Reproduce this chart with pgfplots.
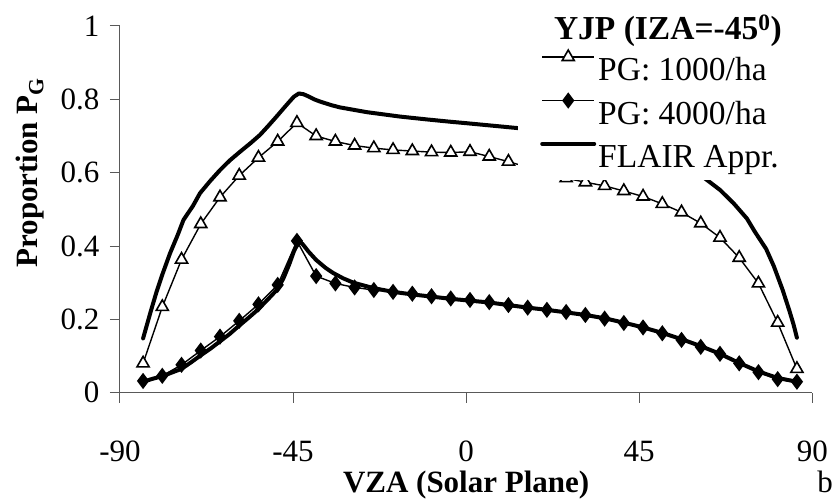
\documentclass[border=0pt]{standalone}
\usepackage{fontspec}
\setmainfont{Liberation Serif}
\usepackage{pgfplots}
\pgfplotsset{compat=1.18}
\begin{document}
\fontsize{31bp}{43.3bp}\selectfont
\begin{tikzpicture}
\begin{axis}[
  scale only axis, width=692.3bp, height=366.7bp,
  xmin=-90, xmax=90, ymin=0, ymax=1,
  axis lines=left, axis line style={-, black!65, line width=1bp},
  xtick={-90,-45,0,45,90}, xticklabels={-90,-45,0,45,90},
  ytick={0,0.2,0.4,0.6,0.8,1}, yticklabels={0,0.2,0.4,0.6,0.8,1},
  tick align=outside, major tick length=10bp,
  tick style={black!65, line width=1bp},
  xticklabel style={anchor=base, yshift=-58.3bp},
  yticklabel style={anchor=east},
  ylabel={\textbf{Proportion P\textsubscript{G}}},
  ylabel style={at={(axis description cs:-0.130,0.60)}, anchor=center},
  xlabel={\textbf{VZA (Solar Plane)}},
  xlabel style={at={(axis description cs:0.5,-0.271)}, anchor=base},
  legend style={at={(axis cs:13.49,0.935)}, anchor=north west, fill=white, draw=none,
    inner xsep=22bp, inner ysep=0bp, cells={anchor=base west},
    nodes={inner sep=0bp, text height=30.3bp, text depth=13bp},
    row sep=0bp, font=\fontsize{33.5bp}{43.3bp}\selectfont,
    /tikz/every odd column/.append style={column sep=2bp}},
  legend image code/.code={\draw[mark repeat=2,mark phase=2,#1] plot coordinates {(0bp,23.5bp) (26bp,23.5bp) (52bp,23.5bp)};},
  clip=false,
]
\addplot[black, line width=1.4bp, mark=triangle*, mark size=7bp, mark options={fill=white, line width=1.6bp, solid}] coordinates {
(-84,0.080) (-79,0.234) (-74,0.363) (-69,0.460) (-64,0.533) (-59,0.592) (-54,0.641) (-49,0.685) (-44,0.736)
(-39,0.700) (-34,0.685) (-29,0.674) (-24,0.667) (-19,0.662) (-14,0.659) (-9,0.656) (-4,0.655) (1,0.657)
(6,0.644) (11,0.630) (16,0.615) (21,0.600) (26,0.585) (31,0.574) (36,0.564) (41,0.550) (46,0.535)
(51,0.515) (56,0.492) (61,0.462) (66,0.423) (71,0.368) (76,0.298) (81,0.191) (86,0.065)};
\addlegendentry{PG: 1000/ha}
\addplot[black, line width=1.4bp, mark=diamond*, mark size=7bp, mark options={fill=black, solid}] coordinates {
(-84,0.032) (-79,0.046) (-74,0.076) (-69,0.115) (-64,0.153) (-59,0.196) (-54,0.241) (-49,0.294) (-44,0.414)
(-39,0.318) (-34,0.298) (-29,0.287) (-24,0.280) (-19,0.275) (-14,0.270) (-9,0.263) (-4,0.257) (1,0.253)
(6,0.247) (11,0.239) (16,0.232) (21,0.226) (26,0.220) (31,0.212) (36,0.202) (41,0.190) (46,0.178)
(51,0.162) (56,0.144) (61,0.125) (66,0.106) (71,0.080) (76,0.056) (81,0.037) (86,0.030)};
\addlegendentry{PG: 4000/ha}
\addplot[black, line width=4bp, line join=round, line cap=round] coordinates {
(-84,0.148) (-83,0.185) (-82,0.222) (-80.5,0.275) (-79,0.322) (-77,0.380) (-75,0.430) (-73.5,0.471)
(-71,0.510) (-69.2,0.544) (-66.5,0.578) (-64,0.607) (-61.5,0.633) (-58.8,0.657) (-56,0.681) (-53.6,0.703)
(-51.5,0.727) (-49.3,0.753) (-47.5,0.775) (-46,0.793) (-44.8,0.807) (-43.5,0.816) (-42.3,0.814) (-41,0.808)
(-39.5,0.800) (-38,0.794) (-35,0.784) (-32.8,0.778) (-25.8,0.765) (-17.2,0.753) (-10,0.745) (-4.2,0.739)
(0,0.735) (7,0.728) (14,0.721) (20,0.712) (30,0.695) (40,0.672) (50,0.642) (56,0.619) (62,0.585)
(66,0.553) (69.5,0.517) (73,0.475) (75,0.440) (78,0.392) (80,0.345) (82.3,0.280) (84,0.225) (85.1,0.187) (86,0.150)};
\addlegendentry{FLAIR Appr.}
\addplot[black, line width=4bp, line join=round, line cap=round, forget plot] coordinates {
(-84,0.030) (-81.5,0.038) (-79,0.045) (-76.5,0.055) (-74,0.065) (-71.5,0.083) (-69,0.102) (-66.5,0.120)
(-64,0.140) (-61.5,0.160) (-59,0.183) (-56.5,0.205) (-54,0.228) (-51.5,0.255) (-49,0.283) (-47.5,0.312)
(-46,0.350) (-44.8,0.385) (-43.5,0.414) (-42.5,0.405) (-41,0.385) (-39,0.362) (-36.5,0.340) (-34.5,0.326)
(-32,0.312) (-29.3,0.300) (-26.5,0.292) (-24,0.285) (-19,0.275) (-14,0.268) (-9,0.262) (-4,0.256)
(1,0.251) (6,0.246) (11,0.239) (16,0.232) (21,0.226) (26,0.219) (31,0.212) (36,0.203) (41,0.191)
(46,0.178) (51,0.163) (56,0.146) (61,0.127) (66,0.106) (71,0.081) (76,0.058) (81,0.040) (86,0.030)};
\coordinate (O) at (axis cs:-90,0);
\node[anchor=base west, inner sep=0pt, font=\fontsize{33.5bp}{40bp}\selectfont\bfseries] at (axis cs:22.8,0.962) {YJP (IZA=-45\textsuperscript{0})};
\node[anchor=base west, inner sep=0pt] at (axis description cs:1.007,-0.271) {b};
\end{axis}
\pgfresetboundingbox
\path (O) ++(-120bp,-108.3bp) rectangle ++(837bp,501bp);
\end{tikzpicture}
\end{document}
